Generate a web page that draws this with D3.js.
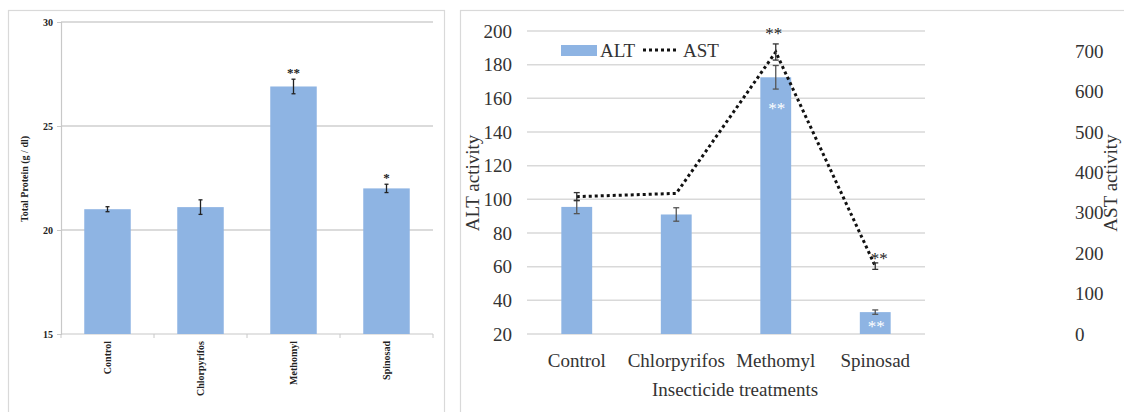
<!DOCTYPE html>
<html>
<head>
<meta charset="utf-8">
<script src="https://cdn.jsdelivr.net/npm/d3@7"></script>
<style>
  body { margin: 0; background: #fff; }
  svg { display: block; }
  text { font-family: "Liberation Serif", "Times New Roman", serif; }
</style>
</head>
<body>
<svg width="1124" height="412"></svg>
<script>
// data
const categories = ["Control", "Chlorpyrifos", "Methomyl", "Spinosad"];

const protein = [21.0, 21.1, 26.9, 22.0];
const proteinErr = [0.12, 0.35, 0.35, 0.2];
const proteinSig = ["", "", "**", "*"];
const proteinTicks = [15, 20, 25, 30];

const alt = [95.5, 91, 172.5, 33];
const altErr = [4, 4, 7, 1.3];
const altSig = ["", "", "**", "**"];
const altTicks = [20, 40, 60, 80, 100, 120, 140, 160, 180, 200];

const ast = [340, 348, 698, 168];
const astErr = [10, 0, 20, 8];
const astSig = ["", "", "**", "**"];
const astTicks = [0, 100, 200, 300, 400, 500, 600, 700];

const barColor = "#8eb4e3";
const gridColor = "#d9d9d9";

const svg = d3.select("svg");

// ---------- left panel: total protein ----------
const left = svg.append("g");

left.append("rect")
  .attr("x", 8.5).attr("y", 10.5)
  .attr("width", 436).attr("height", 420)
  .attr("fill", "none").attr("stroke", gridColor).attr("stroke-width", 1.2);

const lx = d3.scaleBand().domain(categories).range([61, 433]).paddingInner(0.5).paddingOuter(0.25);
const ly = d3.scaleLinear().domain([15, 30]).range([334, 22]);

// gridlines
left.append("g").selectAll("line")
  .data(proteinTicks.slice(1))
  .join("line")
  .attr("x1", 61).attr("x2", 433)
  .attr("y1", d => ly(d)).attr("y2", d => ly(d))
  .attr("stroke", "#cfcfcf").attr("stroke-width", 1.5);

// y axis
const lyAxis = left.append("g")
  .attr("transform", "translate(61,0)")
  .call(d3.axisLeft(ly).tickValues(proteinTicks).tickSize(4).tickPadding(4));
lyAxis.select(".domain").attr("stroke", "#c8c8c8").attr("stroke-width", 1.2);
lyAxis.selectAll(".tick line").attr("stroke", "#c8c8c8");
lyAxis.selectAll("text")
  .attr("font-weight", "bold")
  .attr("font-size", 10).attr("fill", "#222");

// x axis line and boundary ticks
left.append("line")
  .attr("x1", 61).attr("x2", 433).attr("y1", 334).attr("y2", 334)
  .attr("stroke", "#c8c8c8").attr("stroke-width", 1.2);
const step = lx.step();
left.append("g").selectAll("line")
  .data(d3.range(categories.length + 1))
  .join("line")
  .attr("x1", i => 61 + i * step).attr("x2", i => 61 + i * step)
  .attr("y1", 334).attr("y2", 338)
  .attr("stroke", "#c8c8c8");

// bars
left.append("g").selectAll("rect")
  .data(categories)
  .join("rect")
  .attr("x", d => lx(d))
  .attr("width", lx.bandwidth())
  .attr("y", (d, i) => ly(protein[i]))
  .attr("height", (d, i) => ly(15) - ly(protein[i]))
  .attr("fill", barColor);

// error bars
const lErr = left.append("g").attr("stroke", "#222").attr("stroke-width", 1.3);
categories.forEach((c, i) => {
  const cx = lx(c) + lx.bandwidth() / 2;
  const y1 = ly(protein[i] + proteinErr[i]);
  const y2 = ly(protein[i] - proteinErr[i]);
  lErr.append("line").attr("x1", cx).attr("x2", cx).attr("y1", y1).attr("y2", y2);
  lErr.append("line").attr("x1", cx - 2).attr("x2", cx + 2).attr("y1", y1).attr("y2", y1);
  lErr.append("line").attr("x1", cx - 2).attr("x2", cx + 2).attr("y1", y2).attr("y2", y2);
});

// significance stars
left.append("g").selectAll("text")
  .data(categories)
  .join("text")
  .attr("x", d => lx(d) + lx.bandwidth() / 2)
  .attr("y", (d, i) => ly(protein[i] + proteinErr[i]) - 2)
  .attr("text-anchor", "middle")
  .attr("font-weight", "bold").attr("font-size", 13).attr("fill", "#222")
  .text((d, i) => proteinSig[i]);

// category labels (rotated)
left.append("g").selectAll("text")
  .data(categories)
  .join("text")
  .attr("transform", d => `translate(${lx(d) + lx.bandwidth() / 2 + 3},341) rotate(-90)`)
  .attr("text-anchor", "end")
  .attr("font-weight", "bold").attr("font-size", 10).attr("fill", "#222")
  .text(d => d);

// y title
left.append("text")
  .attr("transform", "translate(28,179) rotate(-90)")
  .attr("text-anchor", "middle")
  .attr("font-weight", "bold").attr("font-size", 10).attr("fill", "#222")
  .text("Total Protein (g / dl)");

// ---------- right panel: ALT / AST ----------
const right = svg.append("g");

right.append("rect")
  .attr("x", 460.5).attr("y", 10.5)
  .attr("width", 700).attr("height", 420)
  .attr("fill", "none").attr("stroke", gridColor).attr("stroke-width", 1.2);

const rx = d3.scaleBand().domain(categories).range([527, 925]).paddingInner(0.69).paddingOuter(0.345);
const yAlt = d3.scaleLinear().domain([20, 200]).range([334, 31]);
const yAst = d3.scaleLinear().domain([0, 750]).range([334, 31]);

right.append("g").selectAll("line")
  .data(altTicks)
  .join("line")
  .attr("x1", 527).attr("x2", 925)
  .attr("y1", d => yAlt(d)).attr("y2", d => yAlt(d))
  .attr("stroke", gridColor).attr("stroke-width", 1.5);

const ra = right.append("g")
  .attr("transform", "translate(527,0)")
  .call(d3.axisLeft(yAlt).tickValues(altTicks).tickSize(0).tickPadding(15));
ra.select(".domain").remove();
ra.selectAll("text").attr("font-size", 19).attr("fill", "#333");

const rb = right.append("g")
  .attr("transform", "translate(925,0)")
  .call(d3.axisRight(yAst).tickValues(astTicks).tickSize(0));
rb.select(".domain").remove();
rb.selectAll("text").attr("font-size", 19).attr("fill", "#333")
  .attr("x", 150);

// bars
right.append("g").selectAll("rect")
  .data(categories)
  .join("rect")
  .attr("x", d => rx(d))
  .attr("width", rx.bandwidth())
  .attr("y", (d, i) => yAlt(alt[i]))
  .attr("height", (d, i) => yAlt(20) - yAlt(alt[i]))
  .attr("fill", barColor);

// ALT error bars
const rErr = right.append("g").attr("stroke", "#555").attr("stroke-width", 1.3);
categories.forEach((c, i) => {
  const cx = rx(c) + rx.bandwidth() / 2;
  const y1 = yAlt(alt[i] + altErr[i]);
  const y2 = yAlt(alt[i] - altErr[i]);
  rErr.append("line").attr("x1", cx).attr("x2", cx).attr("y1", y1).attr("y2", y2);
  rErr.append("line").attr("x1", cx - 3).attr("x2", cx + 3).attr("y1", y1).attr("y2", y1);
  rErr.append("line").attr("x1", cx - 3).attr("x2", cx + 3).attr("y1", y2).attr("y2", y2);
});

// AST line
const astLine = d3.line()
  .x((d, i) => rx(categories[i]) + rx.bandwidth() / 2)
  .y(d => yAst(d));
right.append("path")
  .datum(ast)
  .attr("d", astLine)
  .attr("fill", "none").attr("stroke", "#111")
  .attr("stroke-width", 3).attr("stroke-dasharray", "3 3");

// AST error bars
const aErr = right.append("g").attr("stroke", "#333").attr("stroke-width", 1.3);
categories.forEach((c, i) => {
  if (!astErr[i]) return;
  const cx = rx(c) + rx.bandwidth() / 2;
  const y1 = yAst(ast[i] + astErr[i]);
  const y2 = yAst(ast[i] - astErr[i]);
  aErr.append("line").attr("x1", cx).attr("x2", cx).attr("y1", y1).attr("y2", y2);
  aErr.append("line").attr("x1", cx - 3).attr("x2", cx + 3).attr("y1", y1).attr("y2", y1);
  aErr.append("line").attr("x1", cx - 3).attr("x2", cx + 3).attr("y1", y2).attr("y2", y2);
});

// stars: AST (black), ALT (white inside bars)
right.append("g").selectAll("text")
  .data(categories)
  .join("text")
  .attr("x", (d, i) => rx(d) + rx.bandwidth() / 2 + (i === 3 ? 4 : -2))
  .attr("y", (d, i) => i === 3 ? yAst(ast[i]) - 2 : yAst(ast[i] + astErr[i]) - 5)
  .attr("text-anchor", "middle")
  .attr("font-size", 17).attr("fill", "#222")
  .text((d, i) => astSig[i]);

right.append("g").selectAll("text")
  .data(categories)
  .join("text")
  .attr("x", d => rx(d) + rx.bandwidth() / 2 + 1)
  .attr("y", (d, i) => i === 3 ? yAlt(alt[i]) + 20 : yAlt(alt[i]) + 37)
  .attr("text-anchor", "middle")
  .attr("font-size", 17).attr("fill", "#fff")
  .text((d, i) => altSig[i]);

// category labels
right.append("g").selectAll("text")
  .data(categories)
  .join("text")
  .attr("x", d => rx(d) + rx.bandwidth() / 2)
  .attr("y", 367)
  .attr("text-anchor", "middle")
  .attr("font-size", 19).attr("fill", "#333")
  .text(d => d);

right.append("text")
  .attr("x", 735).attr("y", 396)
  .attr("text-anchor", "middle")
  .attr("font-size", 19).attr("fill", "#333")
  .text("Insecticide treatments");

right.append("text")
  .attr("transform", "translate(479,183) rotate(-90)")
  .attr("text-anchor", "middle")
  .attr("font-size", 19).attr("fill", "#333")
  .text("ALT activity");

right.append("text")
  .attr("transform", "translate(1117,183) rotate(-90)")
  .attr("text-anchor", "middle")
  .attr("font-size", 19).attr("fill", "#333")
  .text("AST activity");

// legend
const leg = right.append("g");
leg.append("rect").attr("x", 561).attr("y", 45).attr("width", 36).attr("height", 11).attr("fill", barColor);
leg.append("text").attr("x", 600).attr("y", 57).attr("font-size", 19).attr("fill", "#333").text("ALT");
leg.append("line").attr("x1", 643).attr("x2", 679).attr("y1", 50).attr("y2", 50)
  .attr("stroke", "#111").attr("stroke-width", 3).attr("stroke-dasharray", "3 3");
leg.append("text").attr("x", 683).attr("y", 57).attr("font-size", 19).attr("fill", "#333").text("AST");
</script>
</body>
</html>
